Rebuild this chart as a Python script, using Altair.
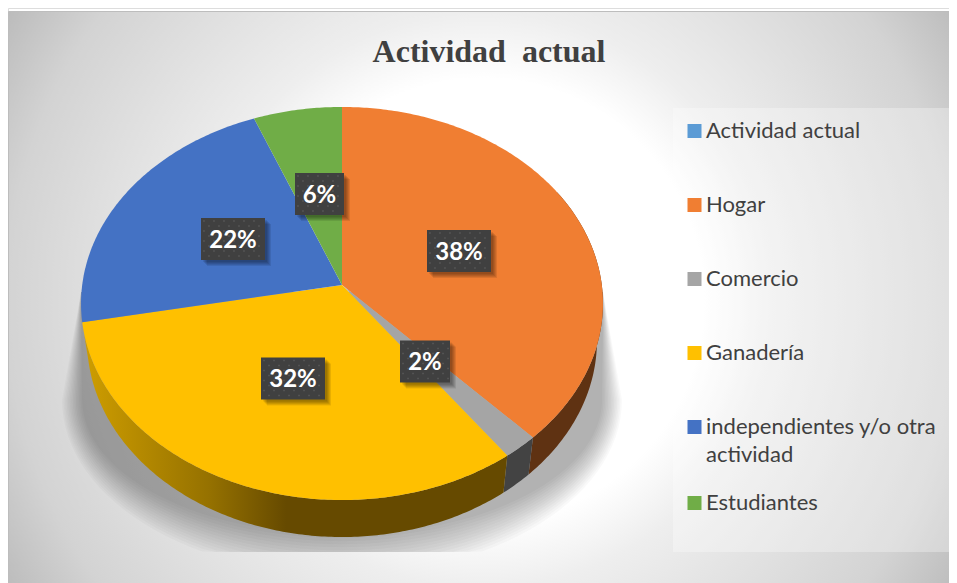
import math
import altair as alt
import pandas as pd

# ---- chart values
CATEGORIES = ["Actividad actual", "Hogar", "Comercio", "Ganadería",
              "independientes y/o otra actividad", "Estudiantes"]
SHARES = [0, 38, 2, 32, 22, 6]
COLORS = ["#5B9BD5", "#F07E32", "#A5A5A5", "#FFC000", "#4472C4", "#70AD47"]
TITLE = "Actividad\u00a0 actual"

# ---- layout (chart pixels)
W, H = 941, 575
FRAME_R = 949
OX, OY = 8, 8
CX, CY = 342 - OX, 285 - OY          # apex of the pie
R_X, R_Y, PERSP = 259.8, 194.8, 0.0941
DEPTH, BOTTOM_SCALE = 37, 0.977
LABEL_BOXES = {  # centre x, centre y, width per category
    "Hogar": (459, 251, 64), "Comercio": (425, 361.5, 50), "Ganadería": (293, 378.5, 64),
    "independientes y/o otra actividad": (233, 239, 64), "Estudiantes": (319.5, 194, 49),
}
BOX_H = 42


def rim(deg):
    a = math.radians(deg)
    u, v = math.sin(a), -math.cos(a)
    w = 1 - PERSP * v
    return CX + R_X * u / w, CY + R_Y * v / w


# pie faces and side walls, derived from the shares
face_rows, wall_rows = [], []
start = 0.0
total = sum(SHARES)
for cat, share in zip(CATEGORIES, SHARES):
    if share == 0:
        continue
    end = start + 360 * share / total
    steps = max(2, int((end - start) * 1.5))
    angles = [start + (end - start) * k / steps for k in range(steps + 1)]
    pts = [(CX, CY)] + [rim(d) for d in angles]
    for i, (x, y) in enumerate(pts):
        face_rows.append(dict(cat=cat, i=i, x=x, y=y))
    if end > 60 and start < 262:
        vis = [d for d in angles if d >= 60]
        top = [rim(d) for d in vis]
        low = [(CX + (x - CX) * BOTTOM_SCALE, y + DEPTH) for x, y in top]
        for i, (x, y) in enumerate(top + low[::-1]):
            wall_rows.append(dict(cat=cat, i=i, x=x, y=y))
    start = end
faces = pd.DataFrame(face_rows)
walls = pd.DataFrame(wall_rows)

# soft floor shadow built from stacked translucent outlines
shadow_rows = []
LEVELS = 14
CLIP_Y = 552 - OY
for lv in range(LEVELS):
    s = lv / (LEVELS - 1)
    rx, ry = 260 + 20 * s, 135 + 40 * s
    sy = 400 - OY
    outline = [(CX - 261, 292 - OY)]
    for k in range(61):
        t = math.pi * k / 60
        outline.append((CX - rx * math.cos(t), min(sy + ry * math.sin(t), CLIP_Y)))
    outline.append((CX + 261, 292 - OY))
    for i, (x, y) in enumerate(outline):
        shadow_rows.append(dict(level=lv, i=i, x=x, y=y))
shadow = pd.DataFrame(shadow_rows)

X_SCALE = alt.Scale(domain=[0, W], nice=False, zero=False)
Y_SCALE = alt.Scale(domain=[H, 0], nice=False, zero=False)
X = alt.X("x:Q", scale=X_SCALE, axis=None)
Y = alt.Y("y:Q", scale=Y_SCALE, axis=None)
X2, Y2 = alt.X2("x2:Q"), alt.Y2("y2:Q")

bg_df = pd.DataFrame([dict(x=0.5, x2=FRAME_R, y=3.5, y2=H + 6)])
panel_df = pd.DataFrame([dict(x=673 - OX, x2=953 - OX, y=108 - OY, y2=552 - OY)])

background = alt.Chart(bg_df).mark_rect(
    stroke="#bdbdbd", strokeWidth=1,
    fill=alt.RadialGradient(
        gradient="radial", x1=0.5, y1=0.5, x2=0.5, y2=0.5, r1=0, r2=0.584,
        stops=[alt.GradientStop(offset=0, color="#ffffff"),
               alt.GradientStop(offset=0.4, color="#ffffff"),
               alt.GradientStop(offset=0.52, color="#eeeeee"),
               alt.GradientStop(offset=0.86, color="#d3d3d3"),
               alt.GradientStop(offset=1, color="#bcbcbc")],
    ),
).encode(x=X, x2=X2, y=Y, y2=Y2)

panel = alt.Chart(panel_df).mark_rect(fill="#ffffff", opacity=0.3).encode(x=X, x2=X2, y=Y, y2=Y2)

shadow_layer = alt.Chart(shadow).mark_line(fill="#000000", fillOpacity=0.022, strokeWidth=0).encode(
    x=X, y=Y, detail="level:N", order=alt.Order("i:Q"))

wall_fill = {"Hogar": "#5F3212", "Comercio": "#434343"}
wall_layers = [
    alt.Chart(walls[walls.cat == c]).mark_line(fill=col, strokeWidth=0).encode(
        x=X, y=Y, order=alt.Order("i:Q"))
    for c, col in wall_fill.items()
]
yellow_wall = alt.Chart(walls[walls.cat == "Ganadería"]).mark_line(
    strokeWidth=0,
    fill=alt.LinearGradient(
        gradient="linear", x1=0, y1=0, x2=1, y2=0,
        stops=[alt.GradientStop(offset=0, color="#CF9E00"),
               alt.GradientStop(offset=0.3, color="#957100"),
               alt.GradientStop(offset=0.48, color="#664A00"),
               alt.GradientStop(offset=1, color="#664A00")],
    ),
).encode(x=X, y=Y, order=alt.Order("i:Q"))

top_faces = alt.Chart(faces).mark_line(strokeWidth=0).encode(
    x=X, y=Y, order=alt.Order("i:Q"),
    fill=alt.Fill(
        "cat:N",
        scale=alt.Scale(domain=CATEGORIES, range=COLORS),
        legend=alt.Legend(
            orient="none", legendX=675.5, legendY=86, title=None,
            symbolType="square", symbolSize=196, symbolStrokeWidth=0,
            symbolOpacity=1, padding=0, rowPadding=0, clipHeight=74,
            labelFont="Lato", labelFontSize=22, labelColor="#404040",
            labelLimit=300, labelOffset=0.5,
            labelExpr="datum.label == 'independientes y/o otra actividad' "
                      "? ['independientes y/o otra', 'actividad'] : datum.label",
        ),
    ),
)

# data labels
box_rows, dot_rows = [], []
for cat, share in zip(CATEGORIES, SHARES):
    if cat not in LABEL_BOXES:
        continue
    cx, cy, bw = LABEL_BOXES[cat]
    cx, cy = cx - OX, cy - OY
    box_rows.append(dict(cat=cat, text=f"{share}%", cx=cx, cy=cy,
                         x=cx - bw / 2, x2=cx + bw / 2, y=cy - BOX_H / 2, y2=cy + BOX_H / 2))
    ny, nx = int(BOX_H // 5), int(bw // 5)
    for r in range(ny):
        for c in range(nx):
            if (r + c) % 2 == 0:
                dot_rows.append(dict(x=cx - bw / 2 + 3 + c * 5, y=cy - BOX_H / 2 + 3 + r * 5))
boxes = pd.DataFrame(box_rows)
dots = pd.DataFrame(dot_rows)

def box_shadow(d, op):
    df = boxes.assign(x=boxes.x + d, x2=boxes.x2 + d, y=boxes.y + d, y2=boxes.y2 + d)
    return alt.Chart(df).mark_rect(fill="#000000", opacity=op).encode(x=X, x2=X2, y=Y, y2=Y2)

box_shadows = [box_shadow(d, 0.09) for d in (6, 5, 4, 3, 2)]
box_layer = alt.Chart(boxes).mark_rect(fill="#404040").encode(x=X, x2=X2, y=Y, y2=Y2)
dot_layer = alt.Chart(dots).mark_square(size=3, color="#565656", opacity=1).encode(x=X, y=Y)
text_layer = alt.Chart(boxes).mark_text(
    font="Lato", fontWeight="bold", fontSize=24, color="#ffffff", baseline="middle", align="center", dy=1.5,
).encode(x=alt.X("cx:Q", scale=X_SCALE, axis=None), y=alt.Y("cy:Q", scale=Y_SCALE, axis=None), text="text:N")

title_df = pd.DataFrame([dict(x=489 - OX, y=62 - OY, text=TITLE)])
title_layer = alt.Chart(title_df).mark_text(
    font="Liberation Serif", fontSize=32, fontWeight="bold", color="#404040",
    align="center", baseline="alphabetic",
).encode(x=X, y=Y, text="text:N")

chart = alt.layer(
    background, panel, shadow_layer, *wall_layers, yellow_wall, top_faces,
    *box_shadows, box_layer, dot_layer, text_layer, title_layer,
).properties(
    width=W, height=H, padding=0,
    autosize=alt.AutoSizeParams(type="none"),
).configure_view(stroke=None).configure(
    background="#ffffff",
    style={"guide-label": {"lineHeight": 28}},
)

chart.save("out.html", embed_options={"renderer": "svg", "actions": False})
